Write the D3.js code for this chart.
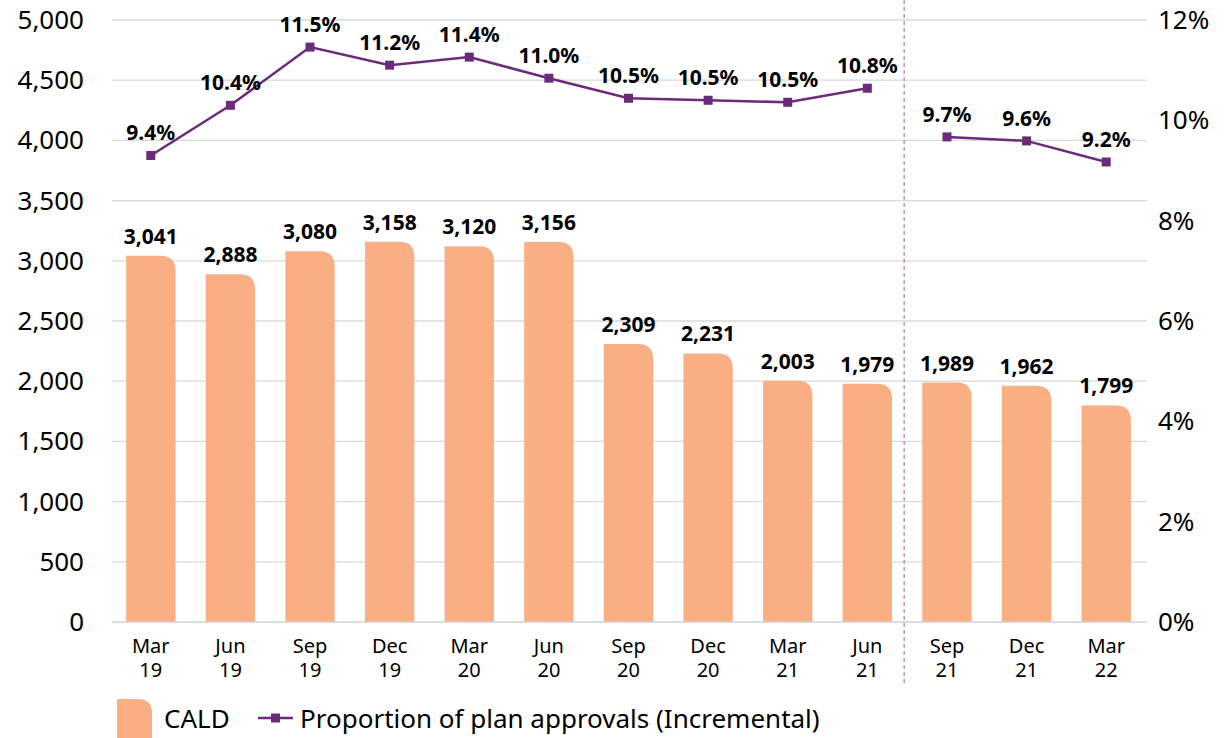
<!DOCTYPE html>
<html>
<head>
<meta charset="utf-8">
<script src="https://cdn.jsdelivr.net/npm/d3@7"></script>
<style>
  body { margin: 0; background: #fff; }
  svg text { font-family: "Noto Sans", "Open Sans", sans-serif; fill: #000; }
</style>
</head>
<body>
<svg id="chart" width="1226" height="738"></svg>
<script>
// data
let quarters = ["Mar 19","Jun 19","Sep 19","Dec 19","Mar 20","Jun 20","Sep 20","Dec 20","Mar 21","Jun 21","Sep 21","Dec 21","Mar 22"];
let caldCounts = [3041, 2888, 3080, 3158, 3120, 3156, 2309, 2231, 2003, 1979, 1989, 1962, 1799];
let approvalShare = [9.3, 10.3, 11.46, 11.1, 11.26, 10.84, 10.44, 10.4, 10.36, 10.64, 9.67, 9.59, 9.17];
let approvalLabels = ["9.4%","10.4%","11.5%","11.2%","11.4%","11.0%","10.5%","10.5%","10.5%","10.8%","9.7%","9.6%","9.2%"];
let leftTicks = [0,500,1000,1500,2000,2500,3000,3500,4000,4500,5000];
let rightTicks = [0,2,4,6,8,10,12];
let breakAfter = "Jun 21";

let barColor = "#f9ae83", lineColor = "#6c2a7b";

let svg = d3.select("#chart");
let plotL = 112, plotR = 1147, plotT = 20, plotB = 622;

let x = d3.scaleBand().domain(quarters).range([plotL - 1, plotR - 1]).paddingInner(0.38).paddingOuter(0.19);
let y = d3.scaleLinear().domain([0, 5000]).range([plotB, plotT]);
let y2 = d3.scaleLinear().domain([0, 12]).range([plotB, plotT]);
let cx = q => x(q) + x.bandwidth() / 2;

// gridlines
svg.append("g").selectAll("line").data(leftTicks.filter(d => d > 0)).enter().append("line")
  .attr("x1", plotL).attr("x2", plotR)
  .attr("y1", d => y(d)).attr("y2", d => y(d))
  .attr("stroke", "#d9d9d9").attr("stroke-width", 1.3);

// left axis
let fmt = d3.format(",");
svg.append("g").selectAll("text").data(leftTicks).enter().append("text")
  .attr("x", 84).attr("y", d => y(d) + 9)
  .attr("text-anchor", "end").attr("font-size", 26)
  .text(d => fmt(d));

// right axis
svg.append("g").selectAll("text").data(rightTicks).enter().append("text")
  .attr("x", 1158).attr("y", d => y2(d) + 9)
  .attr("font-size", 26)
  .text(d => d + "%");

// bars with rounded top-right corner
function barPath(x0, y0, w, h, r) {
  r = Math.min(r, w / 2, h);
  return "M" + x0 + "," + (y0 + h) +
    "V" + y0 +
    "H" + (x0 + w - r) +
    "Q" + (x0 + w) + "," + y0 + " " + (x0 + w) + "," + (y0 + r) +
    "V" + (y0 + h) + "Z";
}

svg.append("g").selectAll("path").data(quarters).enter().append("path")
  .attr("d", (q, i) => barPath(x(q), y(caldCounts[i]), x.bandwidth(), plotB - y(caldCounts[i]), 15))
  .attr("fill", barColor);

// bar labels
svg.append("g").selectAll("text").data(quarters).enter().append("text")
  .attr("x", cx)
  .attr("y", (q, i) => y(caldCounts[i]) - 12)
  .attr("text-anchor", "middle").attr("font-size", 21).attr("font-weight", "bold")
  .text((q, i) => fmt(caldCounts[i]));

// baseline
svg.append("line").attr("x1", plotL).attr("x2", plotR).attr("y1", plotB).attr("y2", plotB)
  .attr("stroke", "#d0d0d0").attr("stroke-width", 1.5);

// dashed divider
let bi = quarters.indexOf(breakAfter);
let divX = x(quarters[bi]) + x.bandwidth() + (x.step() - x.bandwidth()) / 2 - 3;
svg.append("line").attr("x1", divX).attr("x2", divX).attr("y1", 0).attr("y2", 685)
  .attr("stroke", "#a77bb0").attr("stroke-width", 1.2).attr("stroke-dasharray", "4,3");

// x labels, month and year as two rows
svg.append("g").selectAll("text").data(quarters).enter().append("text")
  .attr("x", cx).attr("y", 653)
  .attr("text-anchor", "middle").attr("font-size", 20)
  .text(q => q.split(" ")[0]);
svg.append("g").selectAll("text").data(quarters).enter().append("text")
  .attr("x", cx).attr("y", 677)
  .attr("text-anchor", "middle").attr("font-size", 20)
  .text(q => q.split(" ")[1]);

// line, broken at divider
let pts = quarters.map((q, i) => ({ q: q, v: approvalShare[i], i: i }));
let line = d3.line()
  .defined(d => d !== null)
  .x(d => cx(d.q))
  .y(d => y2(d.v));
let withGap = [];
pts.forEach(d => { withGap.push(d); if (d.q === breakAfter) withGap.push(null); });
svg.append("path").datum(withGap).attr("d", line)
  .attr("fill", "none").attr("stroke", lineColor).attr("stroke-width", 2.5);

svg.append("g").selectAll("rect").data(pts).enter().append("rect")
  .attr("x", d => cx(d.q) - 4.5)
  .attr("y", d => y2(d.v) - 4.5)
  .attr("width", 9).attr("height", 9)
  .attr("fill", lineColor);

svg.append("g").selectAll("text").data(pts).enter().append("text")
  .attr("x", d => cx(d.q))
  .attr("y", d => y2(d.v) - 15)
  .attr("text-anchor", "middle").attr("font-size", 21).attr("font-weight", "bold")
  .text(d => approvalLabels[d.i]);

// legend
let lg = svg.append("g");
lg.append("path").attr("d", barPath(117, 699, 35, 40, 14)).attr("fill", barColor);
lg.append("text").attr("x", 164).attr("y", 728).attr("font-size", 26).text("CALD");
lg.append("line").attr("x1", 258).attr("x2", 293).attr("y1", 718).attr("y2", 718)
  .attr("stroke", lineColor).attr("stroke-width", 2.5);
lg.append("rect").attr("x", 271).attr("y", 713.5).attr("width", 9).attr("height", 9).attr("fill", lineColor);
lg.append("text").attr("x", 300).attr("y", 728).attr("font-size", 26).text("Proportion of plan approvals (Incremental)");
</script>
</body>
</html>
